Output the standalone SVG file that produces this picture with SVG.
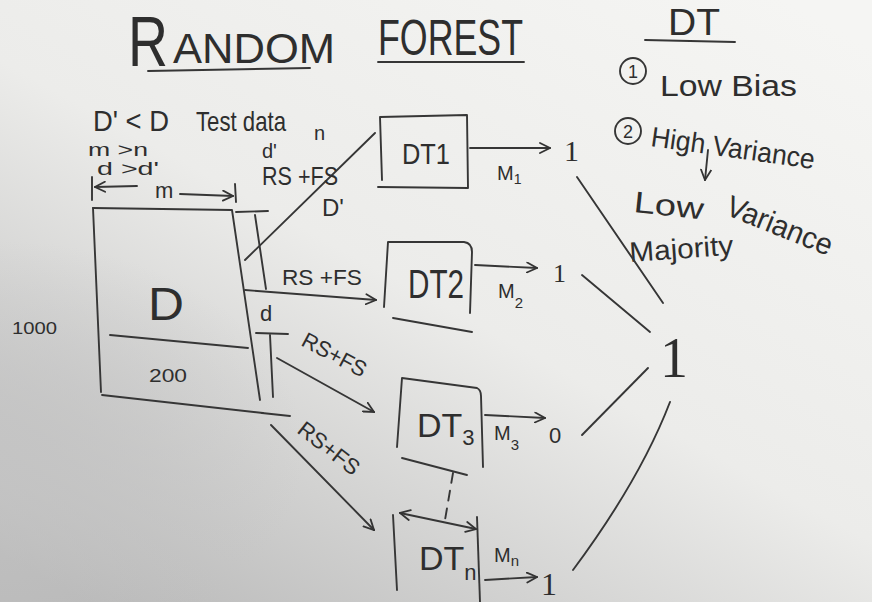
<svg xmlns="http://www.w3.org/2000/svg" width="872" height="602" viewBox="0 0 872 602">
<defs>
<linearGradient id="bg" x1="0.9" y1="0" x2="0.1" y2="1">
<stop offset="0" stop-color="#f5f5f3"/>
<stop offset="0.5" stop-color="#ececea"/>
<stop offset="1" stop-color="#b9b9b9"/>
</linearGradient>
<radialGradient id="shade" cx="0" cy="0.75" r="0.35">
<stop offset="0" stop-color="#c4c4c4" stop-opacity="0.9"/>
<stop offset="1" stop-color="#c4c4c4" stop-opacity="0"/>
</radialGradient>
<marker id="ah" viewBox="0 0 12 12" refX="11" refY="6" markerWidth="12" markerHeight="12" orient="auto-start-reverse" markerUnits="userSpaceOnUse">
<path d="M1,1 L11,6 L1,11" fill="none" stroke="#333" stroke-width="1.8" stroke-linecap="round"/>
</marker>
</defs>
<style>
.ink{stroke:#363636;stroke-width:1.9;fill:none;stroke-linecap:round;stroke-linejoin:round}
.arr{marker-end:url(#ah)}
.t{font-family:"Liberation Sans",Arial,sans-serif;fill:#2e2e2e}
.n{font-family:"Liberation Serif","Times New Roman",serif;fill:#2e2e2e}
</style>
<rect width="872" height="602" fill="url(#bg)"/>
<rect width="872" height="602" fill="url(#shade)"/>

<g id="title">
<text class="t" x="128" y="66" font-size="70" textLength="40" lengthAdjust="spacingAndGlyphs">R</text>
<text class="t" x="173" y="63" font-size="42" textLength="162" lengthAdjust="spacingAndGlyphs">ANDOM</text>
<text class="t" x="378" y="55" font-size="50" textLength="145" lengthAdjust="spacingAndGlyphs">FOREST</text>
<path class="ink" d="M148,71 L310,68"/>
<path class="ink" d="M378,62 L524,62"/>
</g>

<g id="notes">
<text class="t" x="668" y="35" font-size="36" textLength="52" lengthAdjust="spacingAndGlyphs">DT</text>
<path class="ink" d="M645,40 L735,42"/>
<circle class="ink" cx="633" cy="71" r="13"/>
<text class="t" x="633" y="78" font-size="18" text-anchor="middle">1</text>
<text class="t" x="660" y="96" font-size="30" textLength="137" lengthAdjust="spacingAndGlyphs">Low Bias</text>
<circle class="ink" cx="628" cy="131" r="13"/>
<text class="t" x="628" y="138" font-size="18" text-anchor="middle">2</text>
<text class="t" x="650" y="146" font-size="28" textLength="165" lengthAdjust="spacingAndGlyphs" transform="rotate(8 650 146)">High Variance</text>
<path class="ink arr" d="M708,150 L705,180"/>
<text class="t" x="633" y="212" font-size="30" textLength="70" lengthAdjust="spacingAndGlyphs" transform="rotate(6 633 212)">Low</text>
<text class="t" x="724" y="214" font-size="30" textLength="112" lengthAdjust="spacingAndGlyphs" transform="rotate(22 724 214)">Variance</text>
<text class="t" x="630" y="262" font-size="28" textLength="104" lengthAdjust="spacingAndGlyphs" transform="rotate(-4 630 262)">Majority</text>
</g>

<g id="legend">
<text class="t" x="93" y="131" font-size="30" textLength="76" lengthAdjust="spacingAndGlyphs">D' &lt; D</text>
<text class="t" x="196" y="131" font-size="28" textLength="90" lengthAdjust="spacingAndGlyphs">Test data</text>
<text class="t" x="88" y="156" font-size="19" textLength="60" lengthAdjust="spacingAndGlyphs">m &gt;n</text>
<text class="t" x="97" y="175" font-size="19" textLength="62" lengthAdjust="spacingAndGlyphs">d &gt;d'</text>
<text class="t" x="262" y="158" font-size="20">d'</text>
<text class="t" x="314" y="140" font-size="20">n</text>
<path class="ink" d="M92,177 L92,200"/>
<path class="ink arr" d="M137,186 L95,187"/>
<text class="t" x="155" y="198" font-size="22">m</text>
<path class="ink arr" d="M180,194 L233,196"/>
<path class="ink" d="M235,184 L236,202"/>
<text class="t" x="12" y="334" font-size="17" textLength="45" lengthAdjust="spacingAndGlyphs">1000</text>
</g>

<g id="node-D">
<path class="ink" d="M93,208 L232,210 L260,400"/>
<path class="ink" d="M93,208 L101,392"/>
<path class="ink" d="M110,335 L248,348"/>
<path class="ink" d="M102,395 L263,413"/>
<text class="t" x="148" y="320" font-size="46" textLength="36" lengthAdjust="spacingAndGlyphs">D</text>
<text class="t" x="149" y="382" font-size="18" textLength="38" lengthAdjust="spacingAndGlyphs">200</text>
<path class="ink" d="M236,212 L268,211"/>
<path class="ink" d="M255,215 L266,289"/>
<text class="t" x="260" y="321" font-size="22">d</text>
<path class="ink" d="M256,333 L288,334"/>
<path class="ink" d="M270,335 L273,397"/>
<path class="ink" d="M262,413 L290,416"/>
</g>

<g id="node-DT1">
<path class="ink" d="M380,117 L467,115 L468,188 L378,187 M380,117 L382,180"/>
<text class="t" x="402" y="164" font-size="30" textLength="48" lengthAdjust="spacingAndGlyphs">DT1</text>
</g>
<g id="node-DT2">
<path class="ink" d="M384,307 L388,242 L464,242 Q472,243 472,252 L470,313"/>
<path class="ink" d="M393,318 L472,332"/>
<text class="t" x="408" y="298" font-size="40" textLength="56" lengthAdjust="spacingAndGlyphs">DT2</text>
</g>
<g id="node-DT3">
<path class="ink" d="M397,447 L402,378 L477,388 Q481,390 481,396 L483,467"/>
<path class="ink" d="M402,458 L467,475"/>
<text class="t" x="417" y="437" font-size="34">DT<tspan font-size="22" dy="8">3</tspan></text>
</g>
<g id="node-DTn">
<path class="ink" d="M393,515 L397,590"/>
<path class="ink" d="M477,517 L480,602"/>
<path class="ink" d="M400,513 L476,529" style="marker-start:url(#ah);marker-end:url(#ah)"/>
<text class="t" x="419" y="570" font-size="34">DT<tspan font-size="22" dy="10">n</tspan></text>
</g>

<g id="out-1">
<text class="n" x="564" y="161" font-size="30">1</text>
</g>
<g id="out-2">
<text class="n" x="553" y="282" font-size="26">1</text>
</g>
<g id="out-3">
<text class="t" x="549" y="443" font-size="22">0</text>
</g>
<g id="out-n">
<text class="n" x="541" y="595" font-size="32">1</text>
</g>
<g id="final">
<text class="n" x="660" y="377" font-size="56">1</text>
</g>

<g id="connectors">
<path class="ink" d="M245,260 L375,133"/>
<text class="t" x="322" y="216" font-size="24">D'</text>
<text class="t" x="262" y="185" font-size="26" textLength="76" lengthAdjust="spacingAndGlyphs">RS +FS</text>
<path class="ink arr" d="M245,290 L376,300"/>
<text class="t" x="282" y="285" font-size="22" textLength="80" lengthAdjust="spacingAndGlyphs">RS +FS</text>
<path class="ink arr" d="M277,358 L374,412"/>
<text class="t" x="300" y="345" font-size="22" textLength="70" lengthAdjust="spacingAndGlyphs" transform="rotate(28 300 345)">RS+FS</text>
<path class="ink arr" d="M271,425 L374,530"/>
<text class="t" x="296" y="432" font-size="22" textLength="72" lengthAdjust="spacingAndGlyphs" transform="rotate(38 296 432)">RS+FS</text>
<path class="ink" d="M453,473 L445,520" stroke-dasharray="10 8"/>

<path class="ink arr" d="M470,148 L550,148"/>
<text class="t" x="497" y="180" font-size="20">M<tspan font-size="14" dy="4">1</tspan></text>
<path class="ink arr" d="M475,265 L537,268"/>
<text class="t" x="498" y="298" font-size="20">M<tspan font-size="15" dy="10">2</tspan></text>
<path class="ink arr" d="M485,415 L545,418"/>
<text class="t" x="494" y="440" font-size="20">M<tspan font-size="15" dy="10">3</tspan></text>
<path class="ink arr" d="M485,580 L537,577"/>
<text class="t" x="494" y="562" font-size="20">M<tspan font-size="15" dy="4">n</tspan></text>

<path class="ink" d="M577,177 L663,303"/>
<path class="ink" d="M582,275 L650,332"/>
<path class="ink" d="M582,435 L648,368"/>
<path class="ink" d="M573,570 Q640,480 670,402"/>
</g>
</svg>
